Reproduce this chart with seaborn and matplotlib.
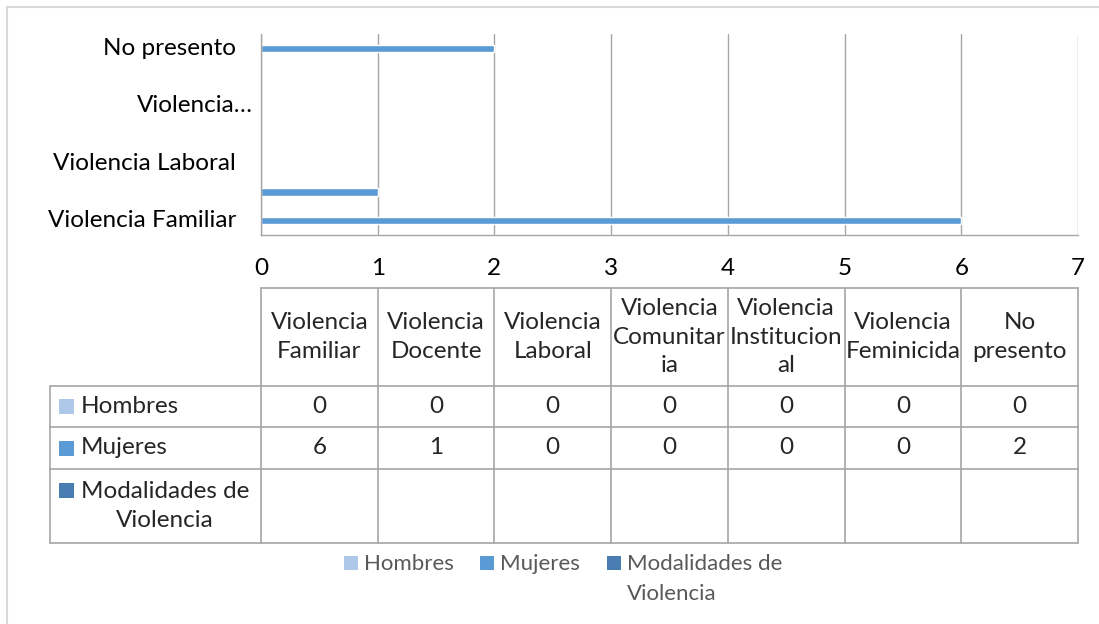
import matplotlib
matplotlib.use("Agg")
import matplotlib.pyplot as plt
import matplotlib.transforms as mtransforms
from matplotlib.lines import Line2D
from matplotlib.patches import Rectangle
import seaborn as sns
import pandas as pd
import numpy as np

# ---------------- data ----------------
categories = ["Violencia Familiar", "Violencia Docente", "Violencia Laboral",
              "Violencia Comunitaria", "Violencia Institucional",
              "Violencia Feminicida", "No presento"]
header_labels = ["Violencia\nFamiliar", "Violencia\nDocente", "Violencia\nLaboral",
                 "Violencia\nComunitar\nia", "Violencia\nInstitucion\nal",
                 "Violencia\nFeminicida", "No\npresento"]
axis_labels = ["Violencia Familiar", "", "Violencia Laboral", "",
               "Violencia…", "", "No presento"]
series = ["Hombres", "Mujeres", "Modalidades de Violencia"]
series_labels = ["Hombres", "Mujeres", "Modalidades de\nViolencia"]
hombres = [0, 0, 0, 0, 0, 0, 0]
mujeres = [6, 1, 0, 0, 0, 0, 2]
modalidades = [np.nan] * 7
x_ticks = [0, 1, 2, 3, 4, 5, 6, 7]
colors = ["#ADC8E8", "#5B9BD5", "#4A7DB1"]

values = {"Hombres": hombres, "Mujeres": mujeres,
          "Modalidades de Violencia": modalidades}
rows = []
for s in series:
    for c, v in zip(categories, values[s]):
        rows.append({"categoria": c, "serie": s, "valor": v})
df = pd.DataFrame(rows)

# ---------------- figure ----------------
W, H = 1099, 624
sns.set_theme(style="white")
plt.rcParams["font.family"] = ["Lato", "DejaVu Sans"]
FS = 17.5
LS = 1.47
fig = plt.figure(figsize=(W / 100, H / 100), dpi=100)
fig.patch.set_facecolor("white")


def fx(px):
    return px / W


def fy(py):
    return 1 - py / H


AX_L, AX_R, AX_T, AX_B = 261, 1078, 34, 235
ax = fig.add_axes([fx(AX_L), fy(AX_B), fx(AX_R) - fx(AX_L), (AX_B - AX_T) / H])

sns.barplot(data=df, y="categoria", x="valor", hue="serie", order=categories,
            hue_order=series, palette=colors, orient="h", width=0.8,
            saturation=1, errorbar=None, legend=False, ax=ax)

ax.set_xlim(x_ticks[0], x_ticks[-1])
ax.set_ylim(-0.5, len(categories) - 0.5)
ax.set_xlabel("")
ax.set_ylabel("")
ax.set_xticks(x_ticks)
ax.set_xticklabels([str(t) for t in x_ticks], fontsize=FS, color="black")
ax.grid(axis="x", color="#A6A6A6", linewidth=1)
ax.grid(axis="y", visible=False)
ax.set_axisbelow(True)
for side in ["top", "right"]:
    ax.spines[side].set_visible(False)
for side in ["left", "bottom"]:
    ax.spines[side].set_color("#A6A6A6")
    ax.spines[side].set_linewidth(1)
ax.set_yticks(np.arange(-0.5, len(categories), 1.0))
ax.set_yticklabels([])
ax.tick_params(axis="y", length=5.8, width=1, color="#A6A6A6", direction="out")
ax.tick_params(axis="x", length=5.8, width=1, color="#A6A6A6", direction="out", pad=11)

# y category labels (every other)
blend = mtransforms.blended_transform_factory(fig.transFigure, ax.transData)
for i, lab in enumerate(axis_labels):
    if not lab:
        continue
    right = 253 if lab.endswith("…") else 236
    ax.text(fx(right), i, lab, transform=blend, ha="right", va="center",
            fontsize=FS, color="black")

# ---------------- outer border ----------------
border = "#D9D9D9"
fig.add_artist(Line2D([fx(7), fx(W)], [fy(7), fy(7)], color=border, lw=1.5))
fig.add_artist(Line2D([fx(7), fx(7)], [fy(7), fy(H)], color=border, lw=1.5))

# ---------------- data table ----------------
grid_c = "#A6A6A6"
col_w = (AX_R - AX_L) / len(categories)
col_edges = [AX_L + k * col_w for k in range(len(categories) + 1)]
T_TOP, R1, R2, R3, T_BOT = 288, 386, 427, 469, 543
LBL_L = 50
PITCH = 32


def hline(y, x0, x1):
    fig.add_artist(Line2D([fx(x0), fx(x1)], [fy(y), fy(y)], color=grid_c, lw=1.2))


def vline(x, y0, y1):
    fig.add_artist(Line2D([fx(x), fx(x)], [fy(y0), fy(y1)], color=grid_c, lw=1.2))


hline(T_TOP, AX_L, AX_R)
for y in [R1, R2, R3, T_BOT]:
    hline(y, LBL_L, AX_R)
vline(LBL_L, R1, T_BOT)
for x in col_edges:
    vline(x, T_TOP, T_BOT)

# header texts
for k, lab in enumerate(header_labels):
    cx = (col_edges[k] + col_edges[k + 1]) / 2
    fig.text(fx(cx), fy((T_TOP + R1) / 2), lab, ha="center", va="center",
             fontsize=FS, linespacing=LS, multialignment="center")

# row labels and values
row_bounds = [(R1, R2), (R2, R3), (R3, T_BOT)]
for (y0, y1), s, lab, col in zip(row_bounds, series, series_labels, colors):
    cy = (y0 + y1) / 2
    nlines = lab.count("\n") + 1
    first = cy - (nlines - 1) * PITCH / 2
    fig.add_artist(Rectangle((fx(59), fy(first + 7.5)), fx(15), 15 / H,
                             facecolor=col, edgecolor="none"))
    fig.text(fx(81), fy(cy), lab, ha="left", va="center", fontsize=FS,
             multialignment="center", linespacing=LS)
    for k, v in enumerate(values[s]):
        if v is None or (isinstance(v, float) and np.isnan(v)):
            continue
        cx = (col_edges[k] + col_edges[k + 1]) / 2
        fig.text(fx(cx), fy(cy), f"{v:g}", ha="center", va="center", fontsize=FS)

# ---------------- legend ----------------
leg_y = 563
leg_x = [344, 480, 607]
for x, lab, col in zip(leg_x, series_labels, colors):
    fig.add_artist(Rectangle((fx(x), fy(leg_y + 7)), fx(14), 14 / H,
                             facecolor=col, edgecolor="none"))
    fig.text(fx(x + 20), fy(leg_y - 9), lab, ha="left", va="top",
             fontsize=FS - 1.5, color="#595959", linespacing=1.6)

fig.savefig("out.png", dpi=100, facecolor="white")
